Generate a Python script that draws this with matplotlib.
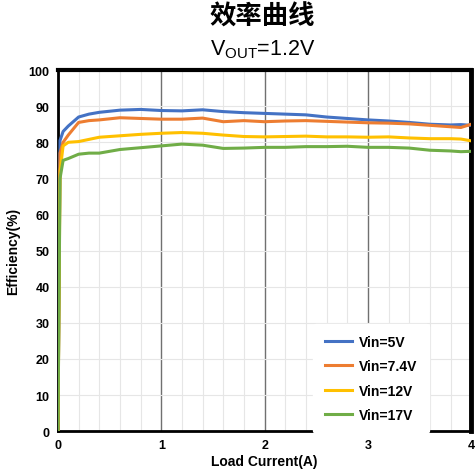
import numpy as np
import matplotlib.pyplot as plt
from matplotlib.ticker import MultipleLocator

plt.rcParams['font.family'] = ['Liberation Sans', 'DejaVu Sans']

# ===============================
# DATA
# ===============================
load_current = [0.0, 0.02, 0.05, 0.1, 0.2, 0.3, 0.4, 0.6, 0.8, 1.0, 1.2, 1.4, 1.6, 1.8,
                2.0, 2.2, 2.4, 2.6, 2.8, 3.0, 3.2, 3.4, 3.6, 3.8, 3.9, 4.0]

eff_5v = [0, 80.5, 83.0, 84.5, 87.0, 87.8, 88.3, 88.9, 89.1, 88.8, 88.7, 89.0, 88.5, 88.2,
          88.0, 87.8, 87.6, 87.0, 86.6, 86.2, 85.9, 85.5, 85.0, 84.8, 84.9, 84.7]
eff_7v4 = [0, 77.0, 80.0, 82.0, 85.5, 86.0, 86.2, 86.8, 86.6, 86.4, 86.4, 86.7, 85.7, 86.0,
           85.7, 85.9, 86.0, 85.8, 85.6, 85.4, 85.3, 85.1, 84.7, 84.3, 84.1, 85.0]
eff_12v = [0, 72.0, 79.0, 80.0, 80.2, 80.8, 81.4, 81.8, 82.2, 82.5, 82.7, 82.5, 82.0, 81.6,
           81.5, 81.6, 81.7, 81.5, 81.5, 81.4, 81.5, 81.2, 81.0, 81.0, 80.9, 80.4]
eff_17v = [0, 70.0, 75.0, 75.5, 76.7, 77.0, 77.0, 78.0, 78.5, 79.0, 79.5, 79.2, 78.3, 78.4,
           78.6, 78.6, 78.8, 78.8, 78.9, 78.6, 78.6, 78.4, 77.8, 77.6, 77.4, 77.5]

series_labels = ['Vin=5V', 'Vin=7.4V', 'Vin=12V', 'Vin=17V']
series_colors = ['#4472C4', '#ED7D31', '#FFC000', '#70AD47']

# ===============================
# PLOTTING
# ===============================
fig = plt.figure(figsize=(4.75, 4.77), dpi=100)
ax = fig.add_axes([0.122, 0.094, 0.870, 0.757])

for eff, lab, col in zip([eff_5v, eff_7v4, eff_12v, eff_17v], series_labels, series_colors):
    ax.plot(load_current, eff, color=col, lw=2.2, label=lab, zorder=3)

ax.set_xlim(0, 4)
ax.set_ylim(0, 100)
ax.xaxis.set_major_locator(MultipleLocator(1))
ax.xaxis.set_minor_locator(MultipleLocator(0.2))
ax.yaxis.set_major_locator(MultipleLocator(10))

ax.grid(True, which='minor', axis='x', color='#e6e6e6', lw=0.8)
ax.grid(True, which='major', axis='y', color='#e6e6e6', lw=0.8)
ax.grid(True, which='major', axis='x', color='#707070', lw=1.0)
ax.set_axisbelow(True)
ax.tick_params(which='both', length=0, labelsize=9, pad=6)
for lbl in ax.get_xticklabels() + ax.get_yticklabels():
    lbl.set_fontweight('bold')

for side in ['left', 'bottom']:
    ax.spines[side].set_linewidth(2)
ax.spines['top'].set_linewidth(3)
ax.spines['right'].set_linewidth(3.5)

ax.set_xlabel('Load Current(A)', fontsize=10, fontweight='bold', labelpad=2)
ax.set_ylabel('Efficiency(%)', fontsize=10, fontweight='bold', labelpad=6)

leg = ax.legend(loc='lower right', bbox_to_anchor=(0.914, -0.025), frameon=True,
                prop={'weight': 'bold', 'size': 10}, handlelength=2.0,
                handletextpad=0.5, labelspacing=0.75, borderpad=0.8)
leg.get_frame().set_edgecolor('white')
leg.get_frame().set_alpha(1)

fig.text(0.553, 0.965, '效率曲线', ha='center', va='center', fontsize=19,
         fontweight='bold', family=['Noto Sans CJK SC', 'DejaVu Sans'])
fig.text(0.553, 0.896, r'V$_{\mathregular{OUT}}$=1.2V', ha='center', va='center', fontsize=15.5)

plt.savefig('out.png', dpi=100)
